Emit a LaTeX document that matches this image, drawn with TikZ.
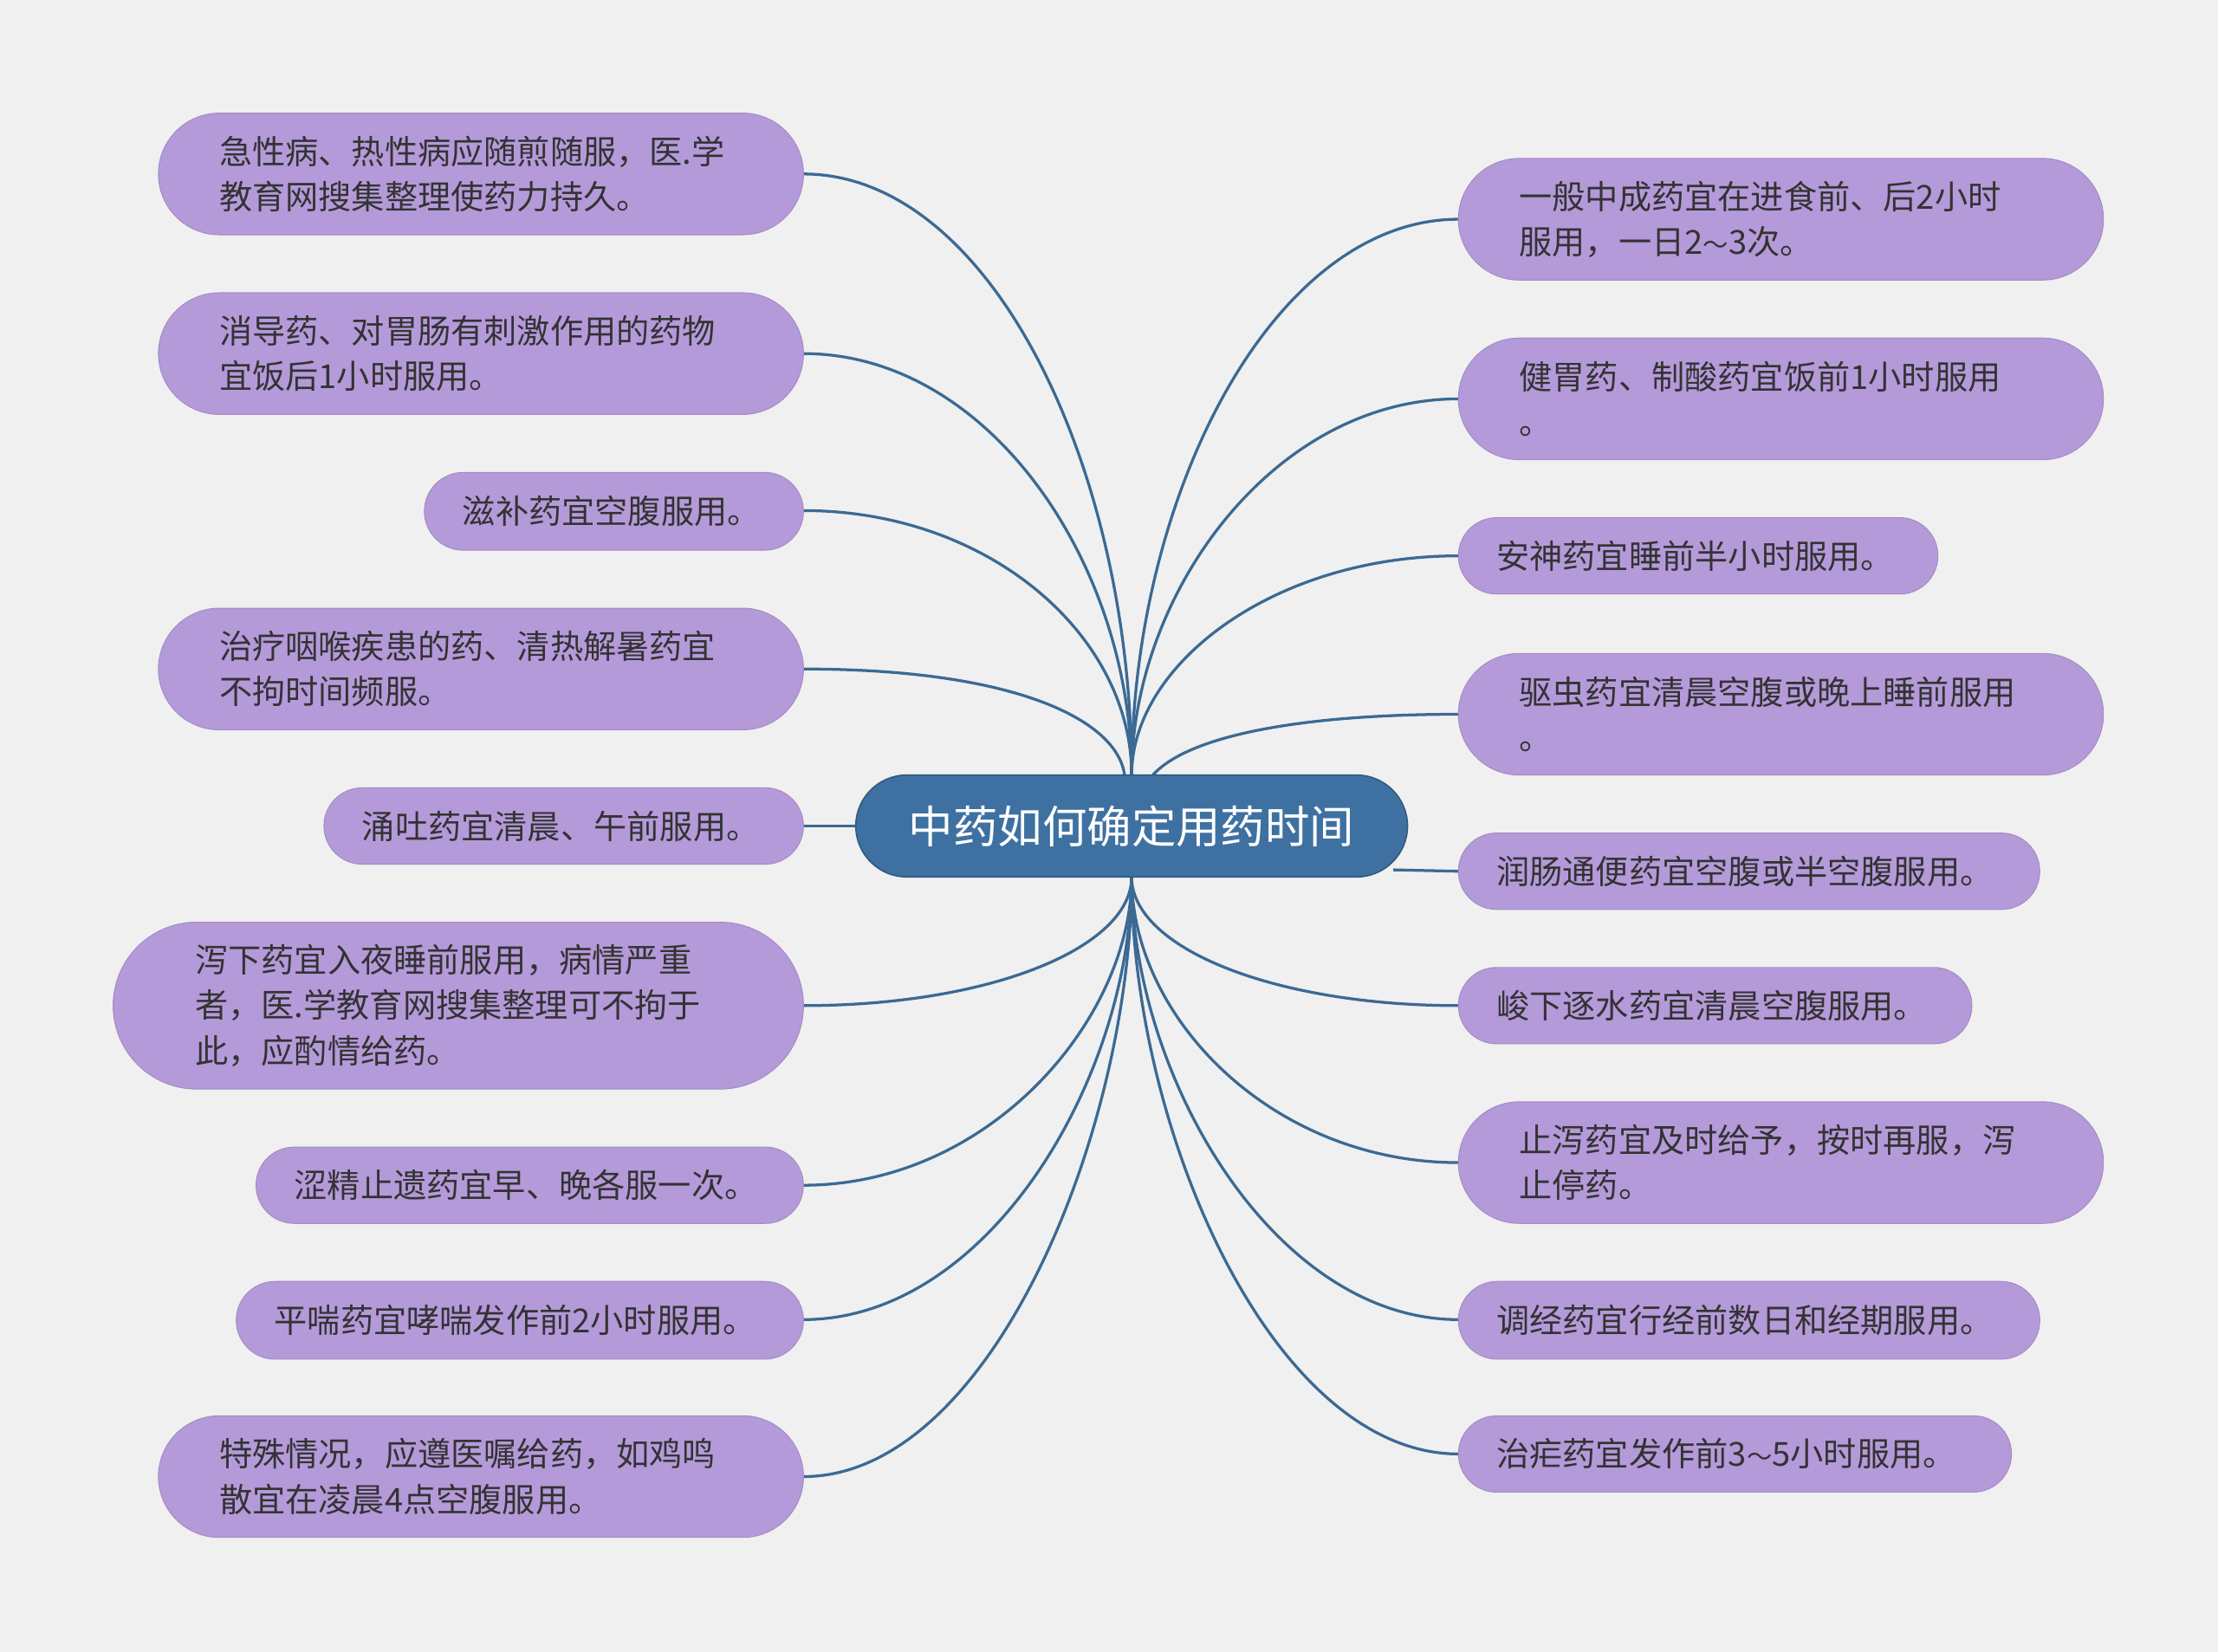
\documentclass[tikz,border=0pt]{standalone}
\usepackage{fontspec}
\setmainfont{Noto Sans CJK SC}
\definecolor{bg}{HTML}{F0F0F0}
\definecolor{lav}{HTML}{B59ADA}
\definecolor{ctr}{HTML}{3E71A1}
\definecolor{lnc}{HTML}{3B6A93}
\definecolor{txt}{HTML}{333333}
\tikzset{bx/.style={fill=lav,draw=lav!90!black,line width=0.6pt,inner sep=0pt,align=left,text=txt,font=\fontsize{23.4}{32}\selectfont},
ln/.style={draw=lnc,line width=2pt}}
\newcommand\mybox[7]{\pgfmathsetmacro\bw{#4-#2}\pgfmathsetmacro\bh{#5-#3}\pgfmathsetmacro\tw{#4-#2-2*#6}\pgfmathsetmacro\rr{(#5-#3)/2}%
\node[bx, minimum width=\bw pt, minimum height=\bh pt, text width=\tw pt, rounded corners=\rr pt] (#1) at ({(#2+#4)/2},{-(#3+#5)/2}) {#7};}
\begin{document}
\begin{tikzpicture}[x=1pt,y=1pt]
\fill[bg] (0,0) rectangle (1568,-1168);
\useasboundingbox (0,0) rectangle (1568,-1168);
\coordinate (ct) at (800,-548);
\coordinate (cb) at (800,-620);
% connectors
\draw[ln] (ct) .. controls (800,-330) and (700,-123) .. (568,-123);
\draw[ln] (ct) .. controls (800,-400) and (700,-250) .. (568,-250);
\draw[ln] (ct) .. controls (800,-450) and (700,-361) .. (568,-361);
\draw[ln] (795,-548) .. controls (790,-510) and (720,-473) .. (568,-473);
\draw[ln] (cb) .. controls (800,-670) and (700,-711) .. (568,-711);
\draw[ln] (cb) .. controls (800,-720) and (700,-838) .. (568,-838);
\draw[ln] (cb) .. controls (800,-760) and (700,-933) .. (568,-933);
\draw[ln] (cb) .. controls (800,-800) and (700,-1044) .. (568,-1044);
\draw[ln] (ct) .. controls (800,-350) and (900,-155) .. (1031,-155);
\draw[ln] (ct) .. controls (800,-420) and (900,-282) .. (1031,-282);
\draw[ln] (ct) .. controls (800,-470) and (900,-393) .. (1031,-393);
\draw[ln] (815,-548) .. controls (840,-520) and (920,-505) .. (1031,-505);
\draw[ln] (cb) .. controls (800,-670) and (900,-711) .. (1031,-711);
\draw[ln] (cb) .. controls (800,-720) and (900,-822) .. (1031,-822);
\draw[ln] (cb) .. controls (800,-760) and (900,-933) .. (1031,-933);
\draw[ln] (cb) .. controls (800,-800) and (900,-1028) .. (1031,-1028);
\draw[ln] (605,-584) -- (568,-584);
\draw[ln] (985,-615) -- (1031,-616);
% center
\node[fill=ctr,draw=ctr!80!black,line width=1pt,rounded corners=36pt,minimum width=390pt,minimum height=72pt,text=white,font=\fontsize{31.5}{36}\selectfont] (c) at (800,-584) {中药如何确定用药时间};
% left
\mybox{L1}{112}{80}{568}{166}{43}{急性病、热性病应随煎随服，医.学\\教育网搜集整理使药力持久。}
\mybox{L2}{112}{207}{568}{293}{43}{消导药、对胃肠有刺激作用的药物\\宜饭后1小时服用。}
\mybox{L3}{300}{334}{568}{389}{27}{滋补药宜空腹服用。}
\mybox{L4}{112}{430}{568}{516}{43}{治疗咽喉疾患的药、清热解暑药宜\\不拘时间频服。}
\mybox{L5}{229}{557}{568}{611}{27}{涌吐药宜清晨、午前服用。}
\mybox{L6}{80}{652}{568}{770}{58}{泻下药宜入夜睡前服用，病情严重\\者，医.学教育网搜集整理可不拘于\\此，应酌情给药。}
\mybox{L7}{181}{811}{568}{865}{27}{涩精止遗药宜早、晚各服一次。}
\mybox{L8}{167}{906}{568}{961}{27}{平喘药宜哮喘发作前2小时服用。}
\mybox{L9}{112}{1001}{568}{1087}{43}{特殊情况，应遵医嘱给药，如鸡鸣\\散宜在凌晨4点空腹服用。}
% right
\mybox{R1}{1031}{112}{1487}{198}{43}{一般中成药宜在进食前、后2小时\\服用，一日2{\fontsize{18}{32}\selectfont～}3次。}
\mybox{R2}{1031}{239}{1487}{325}{43}{健胃药、制酸药宜饭前1小时服用\\。}
\mybox{R3}{1031}{366}{1370}{420}{27}{安神药宜睡前半小时服用。}
\mybox{R4}{1031}{462}{1487}{548}{43}{驱虫药宜清晨空腹或晚上睡前服用\\。}
\mybox{R5}{1031}{589}{1442}{643}{27}{润肠通便药宜空腹或半空腹服用。}
\mybox{R6}{1031}{684}{1394}{738}{27}{峻下逐水药宜清晨空腹服用。}
\mybox{R7}{1031}{779}{1487}{865}{43}{止泻药宜及时给予，按时再服，泻\\止停药。}
\mybox{R8}{1031}{906}{1442}{961}{27}{调经药宜行经前数日和经期服用。}
\mybox{R9}{1031}{1001}{1422}{1055}{27}{治疟药宜发作前3{\fontsize{18}{32}\selectfont～}5小时服用。}
\end{tikzpicture}
\end{document}
